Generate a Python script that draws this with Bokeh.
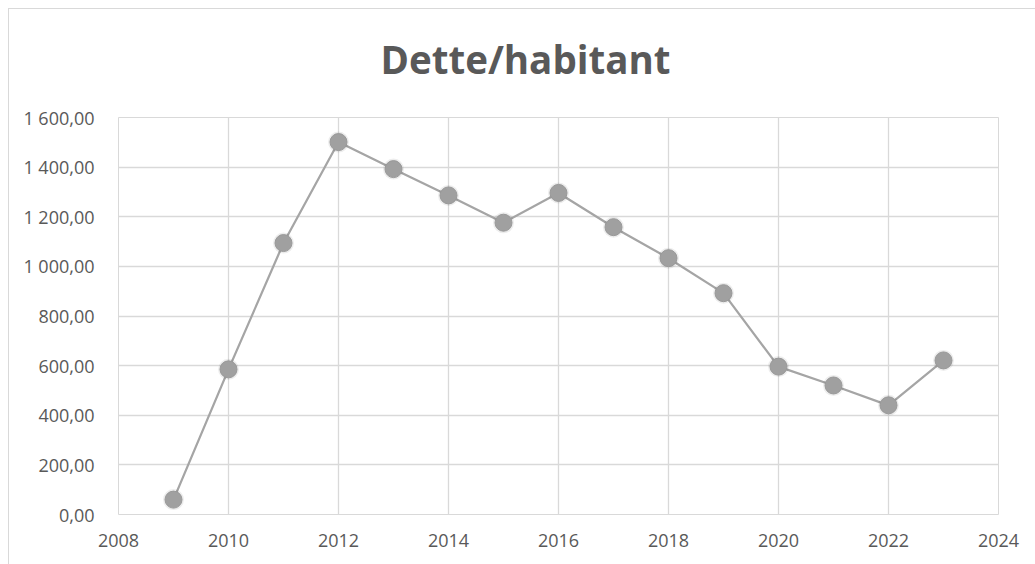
from bokeh.plotting import figure
from bokeh.models import FixedTicker, Range1d
from bokeh.embed import file_html
from bokeh.resources import INLINE

years = [2009, 2010, 2011, 2012, 2013, 2014, 2015, 2016, 2017, 2018, 2019, 2020, 2021, 2022, 2023]
dette = [60, 585, 1094, 1501, 1392, 1286, 1176, 1296, 1158, 1033, 892, 596, 520, 440, 621]

x_ticks = [2008, 2010, 2012, 2014, 2016, 2018, 2020, 2022, 2024]
y_ticks = [0, 200, 400, 600, 800, 1000, 1200, 1400, 1600]
y_labels = ["0,00", "200,00", "400,00", "600,00", "800,00", "1 000,00", "1 200,00", "1 400,00", "1 600,00"]

title_text = "Dette/habitant"

p = figure(width=1027, height=564, output_backend="svg", toolbar_location=None,
           x_range=Range1d(2008, 2024), y_range=Range1d(0, 1600),
           min_border_left=110, min_border_right=37, min_border_top=117, min_border_bottom=50)

p.styles = {
    "margin-left": "8px",
    "margin-top": "0px",
    "background": ("linear-gradient(#d9d9d9, #d9d9d9) 0px 8px / 100% 1px no-repeat, "
                   "linear-gradient(#d9d9d9, #d9d9d9) 0px 8px / 1px 100% no-repeat, #ffffff"),
}

p.title.text = title_text
p.title.align = "left"
p.title.vertical_align = "top"
p.title.offset = 262
p.title.standoff = 61
p.title.text_font = "Open Sans"
p.title.text_font_style = "bold"
p.title.text_font_size = "38.5px"
p.title.text_color = "#595959"

p.outline_line_color = "#d9d9d9"
p.outline_line_width = 1
p.background_fill_color = "white"
p.border_fill_color = None

for ax in (p.xaxis, p.yaxis):
    ax.axis_line_color = None
    ax.major_tick_line_color = None
    ax.minor_tick_line_color = None
    ax.major_label_text_font = "Open Sans"
    ax.major_label_text_font_size = "18px"
    ax.major_label_text_color = "#595959"

p.xaxis.ticker = FixedTicker(ticks=x_ticks)
p.yaxis.ticker = FixedTicker(ticks=y_ticks)
p.yaxis.major_label_overrides = {t: l for t, l in zip(y_ticks, y_labels)}
p.xaxis.major_label_standoff = 13
p.yaxis.major_label_standoff = 18

p.xgrid.ticker = FixedTicker(ticks=x_ticks)
p.ygrid.ticker = FixedTicker(ticks=y_ticks)
p.xgrid.grid_line_color = "#d9d9d9"
p.ygrid.grid_line_color = "#d9d9d9"
p.xgrid.grid_line_width = 1.3
p.ygrid.grid_line_width = 1.3

p.line(years, dette, line_color="#a5a5a5", line_width=2.25)
p.scatter(years, dette, size=21, fill_color="#000000", fill_alpha=0.07, line_color=None)
p.scatter(years, dette, size=17, fill_color="#a0a0a0", line_color="#999999", line_width=1)

open("out.html", "w").write(file_html(p, INLINE))
